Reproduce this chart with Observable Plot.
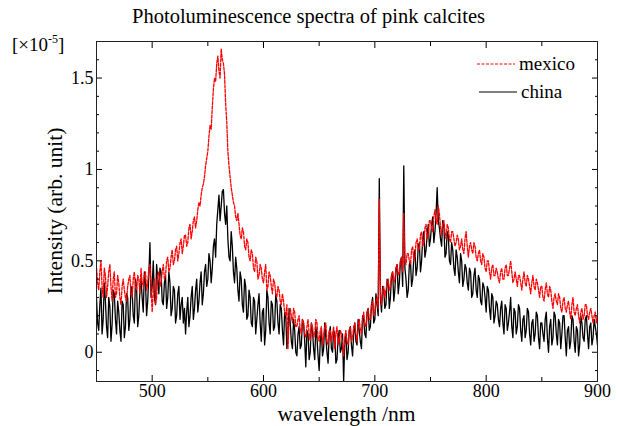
<!DOCTYPE html>
<html>
<head>
<meta charset="utf-8">
<script src="https://cdn.jsdelivr.net/npm/d3@7"></script>
<script src="https://cdn.jsdelivr.net/npm/@observablehq/plot@0.6"></script>
<style>
  html, body { margin: 0; padding: 0; background: #fff; }
  svg text { font-family: "Liberation Serif", "Times New Roman", serif; }
</style>
</head>
<body>
<div id="chart"></div>
<script>
// ---------- data (values in units of 1e-5), 1 nm sampling ----------
const wavelength = d3.range(450, 901, 1); // nm

const china = [
  0.30,0.16,0.12,0.26,0.35,0.10,0.18,0.38,0.28,0.14,0.08,0.30,0.25,0.06,0.15,0.34,0.32,0.18,0.10,0.28,
  0.22,0.12,0.06,0.28,0.26,0.08,0.14,0.32,0.30,0.12,0.18,0.36,0.34,0.20,0.16,0.40,0.36,0.14,0.20,0.34,
  0.40,0.30,0.22,0.44,0.38,0.20,0.28,0.42,0.60,0.30,0.36,0.50,0.30,0.26,0.48,0.40,0.32,0.46,0.44,0.28,
  0.26,0.38,0.42,0.24,0.30,0.44,0.38,0.20,0.24,0.36,0.34,0.16,0.20,0.32,0.36,0.18,0.26,0.30,0.16,0.24,
  0.10,0.22,0.30,0.14,0.20,0.30,0.36,0.18,0.24,0.34,0.40,0.22,0.28,0.38,0.44,0.26,0.32,0.44,0.48,0.36,
  0.40,0.54,0.50,0.38,0.46,0.58,0.62,0.52,0.70,0.78,0.86,0.72,0.80,0.88,0.89,0.76,0.70,0.80,0.62,0.52,
  0.50,0.66,0.58,0.44,0.38,0.52,0.46,0.34,0.28,0.44,0.40,0.26,0.22,0.40,0.36,0.18,0.20,0.34,0.30,0.16,
  0.14,0.30,0.28,0.10,0.18,0.26,0.32,0.16,0.06,0.22,0.24,0.04,0.12,0.34,0.30,0.16,0.10,0.28,0.26,0.12,
  0.14,0.32,0.28,0.16,0.10,0.26,0.24,0.12,0.04,0.22,0.20,0.02,0.08,0.24,0.16,0.06,0.02,0.18,0.12,0.00,
  -0.02,0.10,0.14,0.02,0.04,0.18,0.16,0.06,-0.08,0.12,0.10,-0.04,0.00,0.16,0.12,0.02,-0.04,0.14,0.08,-0.02,
  -0.10,0.06,0.12,-0.02,0.02,0.16,0.08,0.00,-0.06,0.10,0.14,0.02,0.00,0.12,0.10,-0.06,-0.04,0.08,0.12,0.00,
  0.02,0.10,-0.16,0.06,0.10,-0.04,0.00,0.12,0.14,0.04,-0.02,0.10,0.16,0.06,0.04,0.18,0.12,0.06,0.02,0.20,
  0.18,0.10,0.08,0.22,0.24,0.12,0.14,0.26,0.30,0.16,0.18,0.32,0.26,0.20,0.95,0.30,0.22,0.36,0.34,0.24,
  0.26,0.40,0.38,0.24,0.30,0.42,0.44,0.28,0.34,0.46,0.48,0.32,0.38,0.50,0.52,0.36,1.02,0.46,0.40,0.30,
  0.34,0.48,0.50,0.36,0.40,0.52,0.56,0.42,0.46,0.58,0.60,0.44,0.50,0.62,0.66,0.52,0.56,0.64,0.70,0.58,
  0.62,0.70,0.74,0.60,0.66,0.76,0.90,0.72,0.68,0.62,0.58,0.72,0.70,0.52,0.54,0.66,0.64,0.50,0.48,0.60,
  0.56,0.46,0.42,0.56,0.52,0.44,0.38,0.54,0.50,0.36,0.40,0.48,0.46,0.38,0.34,0.46,0.44,0.30,0.32,0.42,
  0.46,0.34,0.30,0.42,0.40,0.28,0.26,0.38,0.36,0.30,0.22,0.36,0.34,0.24,0.18,0.32,0.30,0.16,0.20,0.28,
  0.26,0.18,0.14,0.24,0.28,0.16,0.10,0.26,0.24,0.12,0.16,0.22,0.30,0.14,0.08,0.24,0.22,0.10,0.14,0.26,
  0.24,0.12,0.06,0.18,0.20,0.08,0.12,0.24,0.22,0.10,0.04,0.16,0.18,0.06,0.10,0.22,0.20,0.08,0.02,0.16,
  0.16,0.10,0.06,0.18,0.22,0.08,0.00,0.14,0.18,0.04,0.08,0.22,0.20,0.10,0.04,0.18,0.16,0.02,0.10,0.20,
  0.20,0.08,-0.02,0.12,0.14,0.02,0.06,0.20,0.18,0.06,0.00,0.14,0.12,-0.02,0.04,0.20,0.16,0.08,0.06,0.18,
  0.20,0.10,0.02,0.14,0.16,0.04,0.08,0.18,0.14,0.10,0.04
];

const mexico = [
  0.46,0.38,0.34,0.44,0.50,0.36,0.30,0.46,0.42,0.30,0.36,0.44,0.48,0.36,0.28,0.40,0.44,0.30,0.32,0.42,
  0.38,0.30,0.26,0.36,0.40,0.34,0.30,0.28,0.36,0.40,0.42,0.32,0.30,0.40,0.44,0.36,0.34,0.42,0.40,0.32,
  0.46,0.38,0.36,0.42,0.44,0.34,0.38,0.46,0.48,0.36,0.22,0.34,0.40,0.26,0.30,0.42,0.44,0.36,0.38,0.44,
  0.48,0.40,0.42,0.50,0.52,0.44,0.46,0.52,0.56,0.48,0.50,0.56,0.58,0.50,0.54,0.60,0.62,0.54,0.58,0.64,
  0.64,0.58,0.60,0.68,0.70,0.62,0.66,0.72,0.74,0.68,0.72,0.78,0.82,0.80,0.86,0.90,0.92,0.96,1.02,1.06,
  1.10,1.18,1.24,1.22,1.34,1.44,1.50,1.48,1.58,1.62,1.54,1.50,1.66,1.60,1.58,1.52,1.36,1.26,1.10,1.02,
  0.96,0.90,0.86,0.82,0.80,0.74,0.72,0.76,0.70,0.64,0.62,0.68,0.66,0.58,0.56,0.62,0.60,0.52,0.50,0.56,
  0.54,0.46,0.44,0.52,0.50,0.40,0.42,0.48,0.46,0.40,0.38,0.44,0.48,0.34,0.36,0.44,0.42,0.36,0.32,0.40,
  0.38,0.32,0.30,0.36,0.34,0.28,0.26,0.32,0.28,0.22,0.20,0.26,0.02,0.18,0.24,0.20,0.16,0.24,0.22,0.14,
  0.14,0.18,0.20,0.12,0.10,0.18,0.16,0.10,0.08,0.14,0.18,0.10,0.06,0.16,0.14,0.08,0.10,0.18,0.16,0.08,
  0.06,0.12,0.14,0.04,0.08,0.14,0.16,0.06,0.04,0.12,0.12,0.06,0.10,0.14,0.02,0.10,0.14,0.04,0.06,0.12,
  0.10,0.04,-0.02,0.08,0.12,0.06,0.04,0.12,0.14,0.06,0.08,0.14,0.16,0.10,0.06,0.14,0.18,0.12,0.10,0.18,
  0.22,0.16,0.14,0.20,0.24,0.18,0.18,0.26,0.28,0.20,0.22,0.28,0.30,0.24,0.84,0.32,0.26,0.34,0.36,0.30,
  0.34,0.38,0.40,0.34,0.36,0.42,0.44,0.38,0.40,0.46,0.48,0.42,0.44,0.50,0.52,0.44,0.76,0.50,0.48,0.54,
  0.54,0.50,0.48,0.56,0.58,0.50,0.52,0.60,0.62,0.56,0.56,0.64,0.66,0.58,0.60,0.68,0.70,0.62,0.64,0.72,
  0.72,0.68,0.66,0.74,0.78,0.72,0.70,0.80,0.76,0.68,0.64,0.70,0.72,0.66,0.62,0.70,0.68,0.62,0.60,0.66,
  0.66,0.62,0.58,0.60,0.64,0.62,0.56,0.58,0.62,0.56,0.54,0.62,0.66,0.58,0.52,0.58,0.60,0.56,0.54,0.60,
  0.58,0.52,0.50,0.54,0.56,0.50,0.48,0.54,0.52,0.46,0.44,0.50,0.50,0.44,0.40,0.46,0.48,0.42,0.42,0.46,
  0.44,0.40,0.38,0.44,0.46,0.40,0.40,0.46,0.48,0.42,0.42,0.46,0.50,0.44,0.38,0.40,0.44,0.40,0.36,0.42,
  0.42,0.38,0.34,0.40,0.44,0.38,0.36,0.42,0.40,0.36,0.32,0.38,0.42,0.36,0.34,0.40,0.38,0.34,0.30,0.36,
  0.36,0.30,0.28,0.34,0.38,0.32,0.30,0.36,0.34,0.28,0.24,0.30,0.32,0.28,0.26,0.32,0.30,0.24,0.22,0.28,
  0.30,0.24,0.22,0.26,0.28,0.22,0.18,0.26,0.30,0.22,0.20,0.24,0.26,0.20,0.16,0.22,0.24,0.18,0.20,0.26,
  0.26,0.20,0.18,0.22,0.24,0.20,0.16,0.20,0.22,0.16,0.20
];

const seriesNames = ["mexico", "china"];
const seriesColors = ["red", "black"];
const xTicks = [500, 600, 700, 800, 900];
const xMinorTicks = [550, 650, 750, 850];
const yTicks = [0, 0.5, 1, 1.5];
const yMinorTicks = [-0.1, 0.1, 0.2, 0.3, 0.4, 0.6, 0.7, 0.8, 0.9, 1.1, 1.2, 1.3, 1.4, 1.6, 1.7];
const xDomain = [450, 900];
const yDomain = [-0.16, 1.70];
const titleText = "Photoluminescence spectra of pink calcites";
const xLabel = "wavelength /nm";
const yLabel = "Intensity (arb. unit)";

// ---------- build ----------
const chinaData = wavelength.map((w, i) => ({w, v: china[i]}));
const mexicoData = wavelength.map((w, i) => ({w, v: mexico[i]}));
const blank = () => "";

const W = 617, H = 426;
const mL = 96, mR = 20, mT = 41, mB = 45;

const plot = Plot.plot({
  width: W,
  height: H,
  marginLeft: mL,
  marginRight: mR,
  marginTop: mT,
  marginBottom: mB,
  style: {fontFamily: '"Liberation Serif", serif', fontSize: "18px", color: "black", background: "white", overflow: "visible"},
  x: {domain: xDomain},
  y: {domain: yDomain},
  marks: [
    Plot.line(chinaData, {x: "w", y: "v", stroke: seriesColors[1], strokeWidth: 1.3, clip: true}),
    Plot.line(mexicoData, {x: "w", y: "v", stroke: seriesColors[0], strokeWidth: 1.3, strokeDasharray: "3,1.5", clip: true}),
    // bottom axis
    Plot.axisX({anchor: "bottom", ticks: xTicks, tickSize: 0, tickPadding: 3, label: null, fontSize: 18}),
    Plot.axisX({anchor: "bottom", ticks: xTicks, tickSize: -6, tickFormat: blank, label: null}),
    Plot.axisX({anchor: "bottom", ticks: xMinorTicks, tickSize: -4, tickFormat: blank, label: null}),
    // top axis
    Plot.axisX({anchor: "top", ticks: xTicks, tickSize: -6, tickFormat: blank, label: null}),
    Plot.axisX({anchor: "top", ticks: xMinorTicks, tickSize: -4, tickFormat: blank, label: null}),
    // left axis
    Plot.axisY({anchor: "left", ticks: yTicks, tickSize: 0, tickPadding: 3, label: null, fontSize: 18, tickFormat: d3.format("~g")}),
    Plot.axisY({anchor: "left", ticks: yTicks, tickSize: -6, tickFormat: blank, label: null}),
    Plot.axisY({anchor: "left", ticks: yMinorTicks, tickSize: -3, tickFormat: blank, label: null}),
    // right axis
    Plot.axisY({anchor: "right", ticks: yTicks, tickSize: -6, tickFormat: blank, label: null}),
    Plot.axisY({anchor: "right", ticks: yMinorTicks, tickSize: -3, tickFormat: blank, label: null}),
    Plot.frame({stroke: "#222", strokeWidth: 1})
  ]
});

document.getElementById("chart").appendChild(plot);

const svg = d3.select(plot);
const font = '"Liberation Serif", "Times New Roman", serif';

// title
svg.append("text")
  .attr("x", W / 2).attr("y", 23)
  .attr("text-anchor", "middle")
  .style("font-family", font).style("font-size", "20.5px").attr("fill", "black")
  .text(titleText);

// x label
svg.append("text")
  .attr("x", (mL + W - mR) / 2).attr("y", 421)
  .attr("text-anchor", "middle")
  .style("font-family", font).style("font-size", "21.5px").attr("fill", "black")
  .text(xLabel);

// y label
svg.append("text")
  .attr("transform", `translate(62,${(mT + H - mB) / 2}) rotate(-90)`)
  .attr("text-anchor", "middle")
  .style("font-family", font).style("font-size", "21.5px").attr("fill", "black")
  .text(yLabel);

// exponent label [×10^-5]
const ex = svg.append("text")
  .attr("x", 12).attr("y", 51)
  .attr("text-anchor", "start")
  .style("font-family", font).style("font-size", "19px").attr("fill", "black");
ex.append("tspan").text("[×10");
ex.append("tspan").attr("dy", -8).style("font-size", "12px").text("-5");
ex.append("tspan").attr("dy", 8).text("]");

// legend
const legend = svg.append("g");
const legY = [64, 92];
seriesNames.forEach((name, i) => {
  legend.append("line")
    .attr("x1", 477 + i * 2).attr("x2", 515 + i * 2)
    .attr("y1", legY[i]).attr("y2", legY[i])
    .attr("stroke", seriesColors[i]).attr("stroke-width", 1)
    .attr("stroke-dasharray", i === 0 ? "3,1.5" : null);
  legend.append("text")
    .attr("x", 519 + i * 2).attr("y", legY[i] + 6)
    .attr("text-anchor", "start")
    .style("font-family", font).style("font-size", "19px").attr("fill", "black")
    .text(name);
});
</script>
</body>
</html>
